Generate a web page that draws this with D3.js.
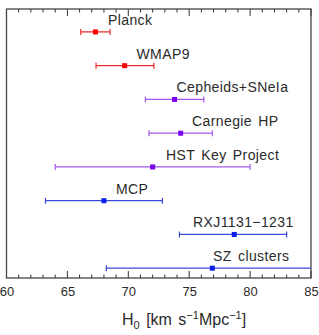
<!DOCTYPE html>
<html><head><meta charset="utf-8">
<script src="https://cdn.jsdelivr.net/npm/d3@7"></script>
<style>html,body{margin:0;padding:0;background:#fff;}svg{display:block;}</style>
</head><body>
<script>
const labels = ["Planck","WMAP9","Cepheids+SNeIa","Carnegie HP","HST Key Project","MCP","RXJ1131\u22121231","SZ clusters"];
const values = [67.3, 69.7, 73.8, 74.3, 72.0, 68.0, 78.7, 76.9];
const lowErr = [1.2, 2.35, 2.4, 2.6, 8.0, 4.8, 4.5, 8.7];
const highErr = [1.2, 2.4, 2.4, 2.6, 8.0, 4.8, 4.3, 9.0];
const groups = ["cmb","cmb","ladder","ladder","ladder","other","other","other"];
const xTicks = [60, 65, 70, 75, 80, 85];

const W = 319, H = 335;
const mLeft = 6.5, mRight = 311, mTop = 9, mBottom = 278;
const colors = {cmb:{line:"#f02828", mark:"#ff0000"}, ladder:{line:"#a259f2", mark:"#7a00ee"}, other:{line:"#3a4be0", mark:"#0a1ee6"}};

const svg = d3.select("body").append("svg").attr("width", W).attr("height", H);
const x = d3.scaleLinear().domain([60, 85]).range([mLeft, mRight]);
const y = d3.scaleLinear().domain([-0.68, 7.29]).range([mTop, mBottom]);

// ticks
const minor = d3.range(60, 86, 1);
const tg = svg.append("g").attr("stroke", "#333").attr("stroke-width", 1);
minor.forEach(v => {
  const len = v % 5 === 0 ? 7 : 3.5;
  tg.append("line").attr("x1", x(v)).attr("x2", x(v)).attr("y1", mBottom).attr("y2", mBottom - len);
  tg.append("line").attr("x1", x(v)).attr("x2", x(v)).attr("y1", mTop).attr("y2", mTop + len);
});

const xAxis = d3.axisBottom(x).tickValues(xTicks).tickSize(0).tickPadding(6);
const ax = svg.append("g").attr("transform", `translate(0,${mBottom})`).call(xAxis);
ax.select(".domain").remove();
ax.selectAll("text").attr("font-family", "Liberation Sans, Arial, sans-serif").attr("font-size", 13).attr("fill", "#2a2a2a").attr("dy", "0.9em");

// frame
svg.append("rect").attr("x", mLeft).attr("y", mTop).attr("width", mRight - mLeft).attr("height", mBottom - mTop)
  .attr("fill", "none").attr("stroke", "#444").attr("stroke-width", 1.3);

// data
const data = labels.map((l, i) => ({label: l, v: values[i], lo: values[i] - lowErr[i], hi: values[i] + highErr[i], g: groups[i], i}));
svg.append("clipPath").attr("id", "c").append("rect").attr("x", mLeft).attr("y", mTop).attr("width", mRight - mLeft).attr("height", mBottom - mTop);
const pg = svg.append("g").attr("clip-path", "url(#c)");
data.forEach(d => {
  const c = colors[d.g];
  const yy = y(d.i);
  pg.append("line").attr("x1", x(d.lo)).attr("x2", x(d.hi)).attr("y1", yy).attr("y2", yy).attr("stroke", c.line).attr("stroke-width", 1.2);
  [d.lo, d.hi].forEach(e => {
    pg.append("line").attr("x1", x(e)).attr("x2", x(e)).attr("y1", yy - 3).attr("y2", yy + 3).attr("stroke", c.line).attr("stroke-width", 1.2);
  });
  pg.append("rect").attr("x", x(d.v) - 2.5).attr("y", yy - 2.5).attr("width", 5).attr("height", 5).attr("fill", c.mark);
});

// labels
const labelX = [108, 136.5, 176.5, 192, 166, 116, 193, 213];
data.forEach((d, i) => {
  svg.append("text").attr("x", labelX[i]).attr("y", y(d.i) - 7)
    .attr("font-family", "Liberation Sans, Arial, sans-serif").attr("font-size", 14)
    .attr("letter-spacing", 0.4).attr("word-spacing", 2).attr("fill", "#2a2a2a").text(d.label);
});

// x title
const t = svg.append("text").attr("x", 122).attr("y", 325).attr("font-family", "Liberation Sans, Arial, sans-serif")
  .attr("font-size", 16).attr("fill", "#2a2a2a").attr("word-spacing", 2);
t.append("tspan").text("H");
t.append("tspan").attr("font-size", 11).attr("dy", 4).text("0");
t.append("tspan").attr("dy", -4).text(" [km s");
t.append("tspan").attr("font-size", 11).attr("dy", -6).text("\u22121");
t.append("tspan").attr("dy", 6).text("Mpc");
t.append("tspan").attr("font-size", 11).attr("dy", -6).text("\u22121");
t.append("tspan").attr("dy", 6).text("]");
</script>
</body></html>
